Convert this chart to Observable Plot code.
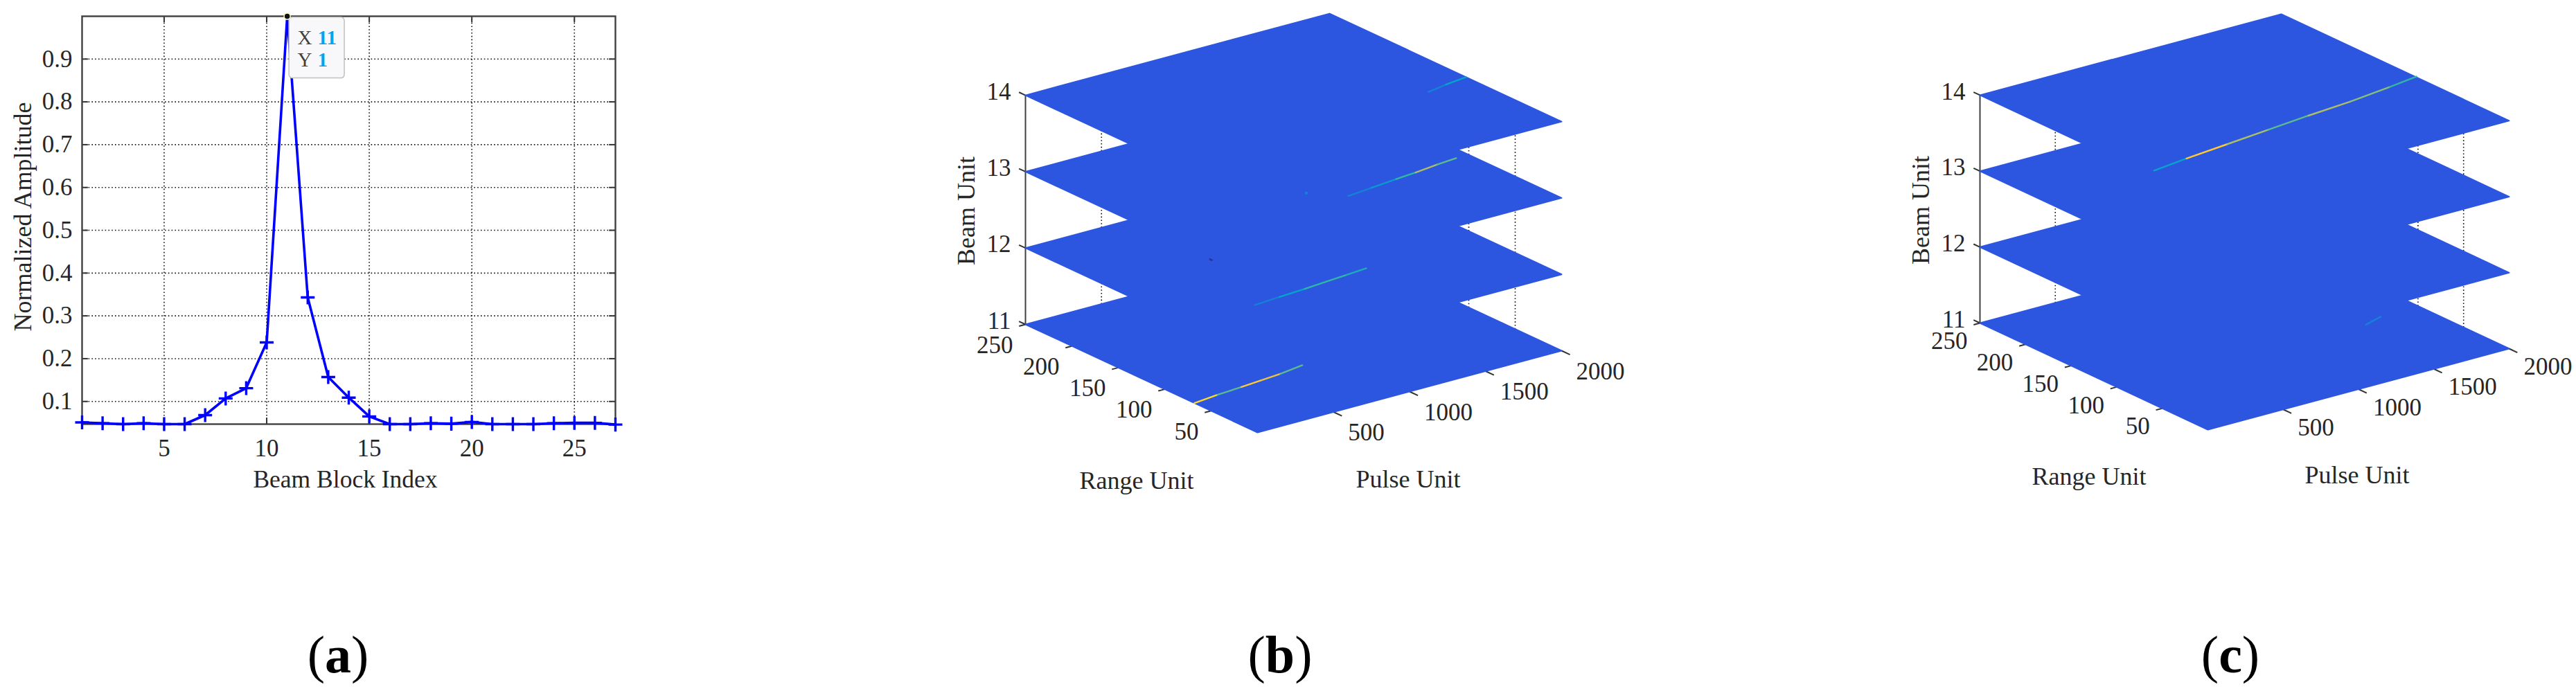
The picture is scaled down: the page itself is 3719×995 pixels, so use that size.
<!DOCTYPE html>
<html>
<head>
<meta charset="utf-8">
<script src="https://cdn.jsdelivr.net/npm/d3@7"></script>
<script src="https://cdn.jsdelivr.net/npm/@observablehq/plot@0.6"></script>
<style>
  html, body { margin: 0; padding: 0; background: #fff; }
  #page { position: relative; width: 3719px; height: 995px; overflow: hidden; }
  #page svg { position: absolute; top: 0; overflow: visible; }
  .cap { position: absolute; font-family: "Liberation Serif", serif; font-size: 76px; line-height: 76px; color: #000; transform: translateX(-50%); white-space: nowrap; }
</style>
</head>
<body>
<div id="page"></div>
<script>
// ---------- panel (a) ----------
const beamBlock = d3.range(1, 28);
const amplitude = [0.051, 0.049, 0.047, 0.049, 0.047, 0.047, 0.068, 0.107, 0.131, 0.238, 1, 0.343, 0.157,
                   0.109, 0.065, 0.047, 0.047, 0.049, 0.048, 0.052, 0.047, 0.047, 0.047, 0.049, 0.050, 0.050, 0.046];
const xTicksA = [5, 10, 15, 20, 25];
const yTicksA = [0.1, 0.2, 0.3, 0.4, 0.5, 0.6, 0.7, 0.8, 0.9];

// ---------- panels (b) and (c) ----------
const beamUnits = [11, 12, 13, 14];
const pulseTicks = [500, 1000, 1500, 2000];
const rangeTicks = [50, 100, 150, 200, 250];

// target traces: [beam, pulses, ranges, amplitudes]
const tracesB = [
  [11, [0, 170, 340, 480, 620, 789], [68, 71, 73, 75, 77, 81], [0.9, 0.6, 0.85, 0.8, 0.6, 0.35]],
  [12, [448, 620, 800, 950, 1100, 1240], [76, 78, 80, 82, 84, 86], [0.3, 0.45, 0.55, 0.55, 0.5, 0.3]],
  [13, [1128, 1300, 1480, 1620, 1780, 1917], [87, 90, 93, 95, 98, 100], [0.3, 0.4, 0.55, 0.7, 0.6, 0.45]],
  [14, [1709, 1850, 2000], [96, 100, 103], [0.3, 0.45, 0.45]]
];
const tracesC = [
  [11, [1612, 1746], [93, 99], [0.3, 0.3]],
  [14, [55, 300, 600, 900, 1200, 1500, 1800, 2007], [68, 73, 78, 83, 88, 92, 98, 103], [0.45, 0.85, 0.7, 0.6, 0.7, 0.65, 0.55, 0.4]]
];
// isolated blobs visible on the planes: [beam, pulse, range, amplitude, size class]
const blobsB = [
  [11, 1155, 115, 0.02, 1], [11, 707, 116, 0.32, 1],
  [12, 679, 161, 0.02, 1], [12, 712, 138, 0.03, 1],
  [13, 704, 117, 0.0, 1], [13, 690, 173, 0.3, 0], [13, 700, 156, 0.3, 0], [13, 980, 108, 0.3, 0], [13, 1059, 114, 0.3, 0]
];
const blobsC = [
  [11, 700, 117, 0.02, 1], [12, 700, 117, 0.0, 1], [13, 700, 117, 0.0, 1]
];

const FONT = "Liberation Serif";
const INK = "#262626";
const PLANE = "#2d56e0";
const LABEL = 36;
const parula = {
  type: "linear",
  domain: [0, 0.15, 0.3, 0.45, 0.55, 0.65, 0.75, 0.85, 1],
  range: ["#352a87", "#0f5cdd", "#1481d6", "#06a4ca", "#2eb7a4", "#87bf77", "#d1bb59", "#fec832", "#f9fb0e"]
};

// ---------- draw (a) ----------
const rowsA = beamBlock.map((x, i) => ({x, y: amplitude[i]}));
const panelA = Plot.plot({
  width: 1240, height: 800,
  marginLeft: 118, marginRight: 352, marginTop: 23, marginBottom: 188,
  style: {fontFamily: FONT, background: "transparent", color: INK, fontSize: "34px"},
  x: {domain: [1, 27], axis: null},
  y: {domain: [0.047, 1], axis: null},
  marks: [
    Plot.ruleX(xTicksA, {stroke: "#111", strokeWidth: 1.6, strokeDasharray: "1.6 3.2", strokeOpacity: 1}),
    Plot.ruleY(yTicksA, {stroke: "#111", strokeWidth: 1.6, strokeDasharray: "1.6 3.2", strokeOpacity: 1}),
    Plot.ruleX(xTicksA, {y1: 0.047, y2: 0.0616, stroke: "#333", strokeWidth: 2}),
    Plot.ruleX(xTicksA, {y1: 1, y2: 0.9854, stroke: "#333", strokeWidth: 2}),
    Plot.ruleY(yTicksA, {x1: 1, x2: 1.3, stroke: "#333", strokeWidth: 2}),
    Plot.ruleY(yTicksA, {x1: 27, x2: 26.7, stroke: "#333", strokeWidth: 2}),
    Plot.frame({stroke: "#404040", strokeWidth: 2.4}),
    Plot.axisX(xTicksA, {anchor: "bottom", tickSize: 0, tickPadding: 22, fontSize: 35, label: null, tickFormat: d3.format("d"), fill: INK}),
    Plot.axisY(yTicksA, {anchor: "left", tickSize: 0, tickPadding: 14, fontSize: 35, label: null, tickFormat: d3.format(".1f"), fill: INK}),
    Plot.text(["Beam Block Index"], {frameAnchor: "bottom", lineAnchor: "middle", dx: -5, dy: 80, fontSize: 35.5, fill: INK}),
    Plot.text(["Normalized Amplitude"], {frameAnchor: "left", textAnchor: "middle", dx: -85, dy: -5, rotate: -90, fontSize: LABEL, fill: INK}),
    Plot.line(rowsA, {x: "x", y: "y", stroke: "#0000ff", strokeWidth: 3.6, curve: "linear"}),
    Plot.dot(rowsA.filter(d => d.y < 1), {x: "x", y: "y", symbol: "plus", r: 6.5, stroke: "#0000ff", strokeWidth: 3.4}),
    Plot.rect([[11.1, 13.8, 0.997, 0.855]], {x1: d => d[0], x2: d => d[1], y1: d => d[2], y2: d => d[3], rx: 5, fill: "#f8f8fb", stroke: "#c0c0c0", strokeWidth: 1.5}),
    Plot.dot(rowsA.filter(d => d.y === 1), {x: "x", y: "y", r: 4.5, fill: "#111", stroke: "#fdfbc8", strokeWidth: 1.5}),
    Plot.text(["X", "Y"], {x: 11.5, y: (d, i) => [0.95, 0.898][i], text: d => d, textAnchor: "start", fontSize: 29, fill: "#404040"}),
    Plot.text(["11", "1"], {x: 12.48, y: (d, i) => [0.95, 0.898][i], text: d => d, textAnchor: "start", fontSize: 29, fontWeight: "bold", fill: "#00a5f0"})
  ]
});
panelA.style.left = "0px";

// ---------- draw (b), (c) ----------
function surfacePanel({left, width, view, traces, blobs, capOff}) {
  const {front, pulse2000, range250, beamStep} = view;
  const px = (p, r) => front[0] + pulse2000[0] * p / 2000 + range250[0] * r / 250;
  const py = (p, r, b) => front[1] + pulse2000[1] * p / 2000 + range250[1] * r / 250 - beamStep * (b - 11);
  const pt = (p, r, b) => ({x: px(p, r), y: py(p, r, b)});
  const link = (a, c) => ({x1: a.x, y1: a.y, x2: c.x, y2: c.y});

  const gridLines = [
    ...[500, 1000, 1500].map(p => link(pt(p, 250, 11), pt(p, 250, 14))),
    ...[50, 100, 150, 200].map(r => link(pt(2000, r, 11), pt(2000, r, 14)))
  ];
  const planeMarks = beamUnits.flatMap(b => {
    const outline = [[0, 0], [2000, 0], [2000, 250], [0, 250], [0, 0]].map(([p, r]) => pt(p, r, b));
    const segs = traces.filter(t => t[0] === b).flatMap(([, ps, rs, as]) =>
      d3.pairs(d3.range(ps.length)).map(([i, j]) => ({...link(pt(ps[i], rs[i], b), pt(ps[j], rs[j], b)), amp: as[i]})));
    const dots = blobs.filter(d => d[0] === b).map(([, p, r, amp, big]) => ({...pt(p, r, b), amp, big}));
    return [
      Plot.line(outline, {x: "x", y: "y", fill: PLANE, stroke: PLANE, strokeWidth: 2, strokeLinejoin: "round"}),
      Plot.dot(dots, {x: "x", y: "y", r: d => d.big ? 7 : 4, fill: d => d.amp, stroke: null}),
      Plot.link(segs, {x1: "x1", y1: "y1", x2: "x2", y2: "y2", stroke: d => d.amp, strokeWidth: 2.4, strokeLinecap: "round"})
    ];
  });

  const beamPts = beamUnits.map(b => ({...pt(0, 250, b), label: String(b), t: pt(0, 257, b)}));
  const rangePts = rangeTicks.map(r => ({...pt(0, r, 11), label: String(r), t: pt(-42, r, 11)}));
  const pulsePts = pulseTicks.map(p => ({...pt(p, 0, 11), label: String(p), t: pt(p, -9, 11)}));
  const tickSegs = [...beamPts, ...rangePts, ...pulsePts].map(d => link(d, d.t));
  const txt = (rows, opts) => Plot.text(rows, {x: "x", y: "y", text: "label", fontSize: 35, fill: INK, ...opts});

  const svg = Plot.plot({
    width, height: 800, margin: 0,
    style: {fontFamily: FONT, background: "transparent", color: INK},
    x: {domain: [left, left + width], range: [0, width], axis: null},
    y: {domain: [0, 800], range: [0, 800], axis: null},
    color: parula,
    marks: [
      Plot.link(gridLines, {x1: "x1", y1: "y1", x2: "x2", y2: "y2", stroke: "#111", strokeWidth: 1.6, strokeDasharray: "1.6 3.2"}),
      Plot.link([link(pt(0, 250, 11), pt(0, 250, 14))], {x1: "x1", y1: "y1", x2: "x2", y2: "y2", stroke: "#404040", strokeWidth: 2}),
      Plot.link(tickSegs, {x1: "x1", y1: "y1", x2: "x2", y2: "y2", stroke: "#333", strokeWidth: 2}),
      ...planeMarks,
      txt(beamPts, {dx: -21, dy: -5, textAnchor: "end"}),
      txt(rangePts, {dx: -18, dy: capOff.tick, textAnchor: "end"}),
      txt(pulsePts, {dx: 21, dy: capOff.tick, textAnchor: "start"}),
      Plot.text(["Beam Unit"], {x: () => pt(0, 250, 12.5).x, y: () => pt(0, 250, 12.5).y, dx: -85, dy: 1.5, rotate: -90, fontSize: LABEL, fill: INK}),
      Plot.text(["Range Unit"], {x: () => pt(0, 125, 11).x, y: () => pt(0, 125, 11).y, dx: -7, dy: capOff.range, fontSize: LABEL, fill: INK}),
      Plot.text(["Pulse Unit"], {x: () => pt(1000, 0, 11).x, y: () => pt(1000, 0, 11).y, dx: -2, dy: capOff.pulse, fontSize: LABEL, fill: INK})
    ]
  });
  svg.style.left = left + "px";
  return svg;
}

const panelB = surfacePanel({
  left: 1240, width: 1240,
  view: {front: [1815, 624], pulse2000: [439, -118], range250: [-335, -156], beamStep: 110.3},
  traces: tracesB, blobs: blobsB, capOff: {tick: 30, range: 148, pulse: 127}
});
const panelC = surfacePanel({
  left: 2620, width: 1099,
  view: {front: [3187, 620], pulse2000: [435, -117], range250: [-329, -154], beamStep: 109.7},
  traces: tracesC, blobs: blobsC, capOff: {tick: 26.5, range: 145, pulse: 124.5}
});

const page = document.getElementById("page");
page.append(panelA, panelB, panelC);
[["a", 488], ["b", 1848], ["c", 3220]].forEach(([t, cx]) => {
  const d = document.createElement("div");
  d.className = "cap";
  d.style.left = cx + "px";
  d.style.top = "907px";
  d.innerHTML = "(<b>" + t + "</b>)";
  page.append(d);
});
</script>
</body>
</html>
